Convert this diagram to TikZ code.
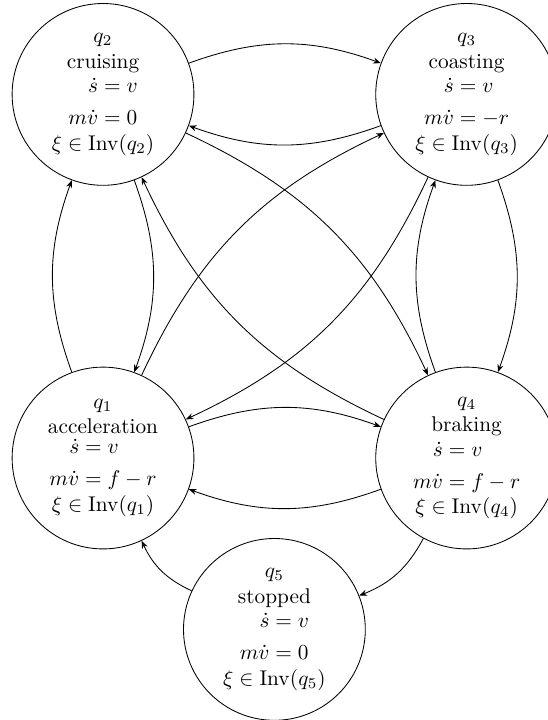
\documentclass[tikz,border=0pt]{standalone}
\usepackage{amsmath}
\usetikzlibrary{arrows.meta}
\newcommand{\modeflow}[2]{$\begin{aligned}\dot s&=v\\ m\dot v&=#1\end{aligned}$\\$\xi\in\mathrm{Inv}(q_{#2})$}

\begin{document}
\begin{tikzpicture}[x=1mm,y=1mm,
  mode/.style={draw,circle,minimum size=30mm,inner sep=0pt,align=center},
  flow/.style={-{Stealth[length=3.6pt,width=2.8pt]},bend left=20}]
\useasboundingbox (-17.0,-43.23) rectangle (73.27,75.58);
\node[mode] (q1) at (0,0) {$q_1$\\acceleration\\\modeflow{f-r}{1}};
\node[mode] (q2) at (0,60) {$q_2$\\cruising\\\modeflow{0}{2}};
\node[mode] (q3) at (60,60) {$q_3$\\coasting\\\modeflow{-r}{3}};
\node[mode] (q4) at (60,0) {$q_4$\\braking\\\modeflow{f-r}{4}};
\node[mode] (q5) at (28.28,-28.28) {$q_5$\\stopped\\\modeflow{0}{5}};
% pairs of opposite transitions
\draw[flow] (q1) to (q2);
\draw[flow] (q2) to (q1);
\draw[flow] (q2) to (q3);
\draw[flow] (q3) to (q2);
\draw[flow] (q3) to (q4);
\draw[flow] (q4) to (q3);
\draw[flow] (q1) to (q4);
\draw[flow] (q4) to (q1);
% diagonals
\draw[flow] (q1) to (q3);
\draw[flow] (q3) to (q1);
\draw[flow] (q2) to (q4);
\draw[flow] (q4) to (q2);
% stop
\draw[flow] (q4) to (q5);
\draw[flow] (q5) to (q1);
\end{tikzpicture}
\end{document}
